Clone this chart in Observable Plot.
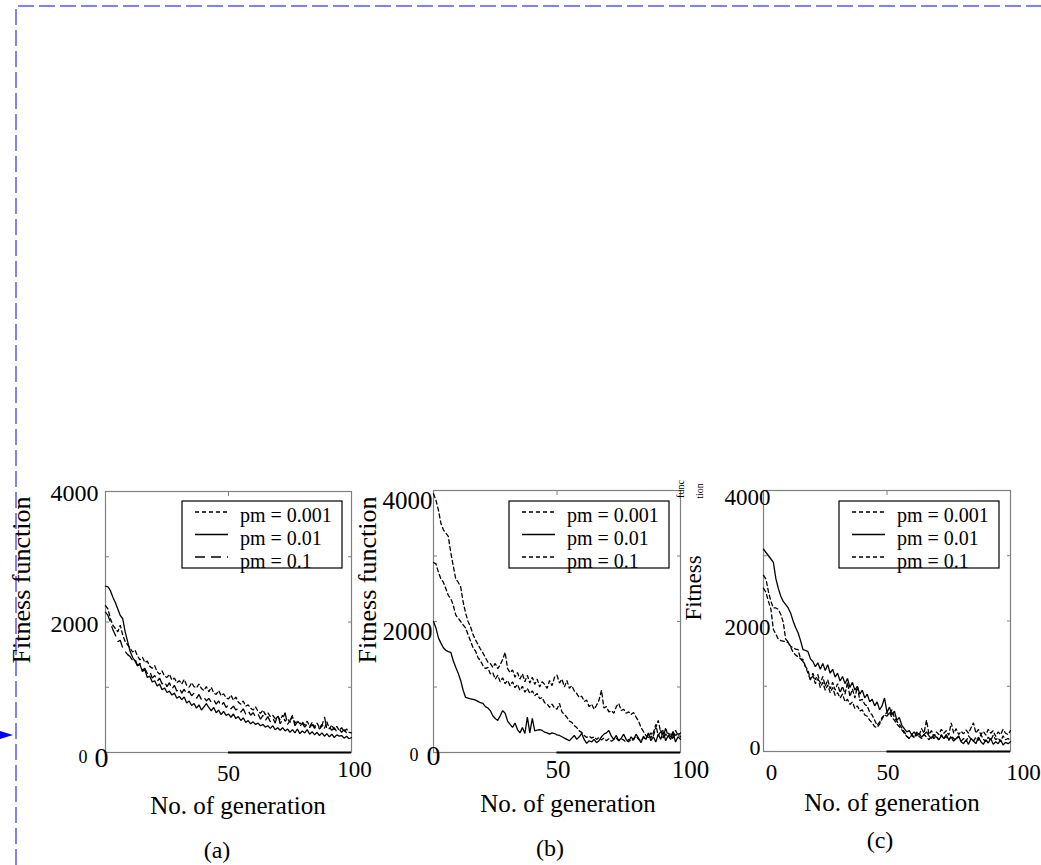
<!DOCTYPE html>
<html>
<head>
<meta charset="utf-8">
<script src="https://cdn.jsdelivr.net/npm/d3@7"></script>
<script src="https://cdn.jsdelivr.net/npm/@observablehq/plot@0.6"></script>
<style>
html,body{margin:0;padding:0;background:#fff;}
#page{position:relative;width:1041px;height:865px;overflow:hidden;font-family:"Liberation Serif","Times New Roman",serif;color:#000;}
.layer{position:absolute;left:0;top:0;}
.t{position:absolute;white-space:nowrap;transform:translate(-50%,-50%);line-height:1;}
.rot{transform:translate(-50%,-50%) rotate(-90deg);}
</style>
</head>
<body>
<div id="page"></div>
<script>
// ---- data ----
const seriesNames = ["pm = 0.001", "pm = 0.01", "pm = 0.1"];
const panelCaptions = ["(a)", "(b)", "(c)"];
const xAxisTitle = "No. of generation";
const yAxisTitle = "Fitness function";
const xTicks = [0, 50, 100];
const yLabelTicks = [2000, 4000];
const yMinorTicks = [1000, 2000, 3000];

// panel (a)
const a_001 = [2250,2200,2050,1950,1900,1850,1950,1800,1700,1650,
 1600,1540,1570,1480,1420,1460,1380,1400,1320,1290,
 1330,1240,1200,1250,1170,1150,1200,1110,1140,1070,
 1100,1050,1120,1030,1000,1070,1010,990,1050,980,
 950,1010,930,1000,910,890,950,870,900,840,
 820,880,800,850,770,740,790,710,730,680,
 650,700,630,600,650,580,610,550,570,520,
 550,500,570,480,520,460,550,450,490,440,
 470,420,480,400,460,390,450,380,430,370,
 470,360,420,350,400,340,380,320,360,310,
 300];
const a_01 = [2550,2540,2480,2380,2300,2200,2100,2050,1850,1700,
 1550,1460,1400,1330,1350,1240,1270,1150,1170,1080,
 1100,1020,1050,960,990,920,940,880,910,830,
 860,810,850,760,790,720,750,680,730,650,
 700,750,690,640,690,610,650,580,630,570,
 590,540,590,520,550,490,530,460,490,440,
 470,430,450,410,430,390,410,370,410,350,
 380,340,380,330,360,310,350,300,360,290,
 330,300,350,280,320,270,310,260,300,250,
 290,240,280,230,270,250,260,220,250,210,
 230];
const a_1 = [2150,2100,2000,1880,1800,1700,1720,1600,1550,1500,
 1470,1410,1440,1330,1370,1260,1290,1210,1250,1140,
 1180,1090,1140,1050,1090,1010,1070,970,1030,940,
 990,910,970,890,940,870,910,830,890,810,
 850,790,830,770,810,740,790,710,770,690,
 730,670,710,650,680,620,670,590,640,570,
 610,550,590,510,570,490,550,470,530,450,
 590,440,510,610,430,490,570,410,470,400,
 450,390,440,380,430,370,420,360,410,550,
 360,390,340,380,320,360,310,350,300,290,
 270];

// panel (b)
const b_001 = [3950,3850,3700,3500,3400,3350,3300,3050,2850,2650,
 2600,2530,2300,2130,2000,1920,1800,1720,1650,1580,
 1520,1450,1380,1360,1300,1360,1280,1340,1420,1530,
 1280,1220,1260,1150,1220,1120,1200,1080,1180,1060,
 1150,1040,1120,1000,1080,1040,980,1100,1020,1150,
 1180,1060,1120,1000,1100,980,1020,940,900,840,
 860,780,800,700,740,660,720,800,950,680,
 700,620,640,600,700,750,640,660,600,620,
 580,610,540,480,383,320,260,230,300,250,
 380,490,300,340,260,300,240,320,260,290,
 240];
const b_01 = [2000,1900,1750,1670,1600,1560,1540,1530,1400,1300,
 1210,1100,950,840,830,820,810,800,780,760,
 750,700,680,640,560,520,490,560,640,600,
 480,430,383,450,350,300,380,290,540,300,
 520,330,340,350,337,310,300,280,300,290,
 270,260,240,220,200,180,220,260,200,240,
 290,200,140,180,160,200,150,180,240,280,
 300,337,250,200,260,180,220,280,200,160,
 240,190,280,220,150,250,200,300,180,240,
 160,280,200,320,180,260,200,300,160,240,
 200];
const b_1 = [2900,2880,2750,2650,2600,2500,2400,2350,2250,2100,
 2050,2000,1950,1900,1800,1700,1600,1550,1450,1400,
 1330,1280,1300,1200,1220,1120,1180,1080,1140,1050,
 1100,1020,1080,990,1040,950,1010,920,980,900,
 940,870,900,820,840,760,740,690,740,680,
 660,750,620,580,540,480,460,410,380,330,
 307,260,230,250,220,240,200,230,190,220,
 180,210,170,200,220,180,210,190,160,200,
 170,210,250,200,180,230,200,280,220,300,
 430,250,340,220,380,240,300,200,340,260,
 300];

// panel (c)
const c_001 = [2700,2640,2450,2300,2200,2200,2180,2100,1980,1720,
 1680,1610,1590,1570,1560,1420,1380,1300,1250,1100,
 1200,1100,1180,1040,1150,1000,1100,960,1060,940,
 1040,900,1000,880,1060,840,960,820,1000,780,
 800,720,700,600,560,480,400,450,520,560,
 600,560,640,520,460,420,360,300,240,200,
 260,220,300,250,350,280,480,260,320,230,
 300,260,340,280,320,250,440,280,350,260,
 310,270,330,280,360,440,280,340,260,310,
 250,340,280,320,230,300,260,340,280,260,
 320];
const c_01 = [3100,3050,3000,2950,2900,2650,2500,2380,2300,2250,
 2200,2120,2000,1900,1820,1700,1560,1550,1530,1420,
 1380,1300,1360,1260,1350,1240,1330,1200,1260,1140,
 1200,1080,1150,1040,1120,980,1060,940,1000,880,
 940,820,880,760,800,700,760,640,700,820,
 600,680,560,620,480,520,400,350,300,320,
 260,300,240,280,220,260,300,240,200,260,
 220,180,240,200,260,180,220,160,200,240,
 150,120,180,110,200,160,120,220,150,110,
 180,130,200,110,150,120,180,100,140,120,
 150];
const c_1 = [2500,2440,2300,2180,1870,1800,1720,1700,1690,1680,
 1670,1600,1520,1480,1450,1420,1410,1300,1200,1100,
 1160,1040,1120,980,1060,940,1020,900,980,860,
 900,820,880,760,800,720,760,660,700,620,
 640,560,540,480,440,380,368,420,500,560,
 540,600,520,480,420,380,330,280,230,200,
 250,210,280,230,200,260,220,180,240,200,
 230,180,260,200,230,170,240,200,180,230,
 160,200,150,240,190,160,220,170,260,190,
 150,220,170,250,180,210,150,240,180,200,
 170];

// ---- layout ----
const W = 1041, H = 865;
const FONT = "'Liberation Serif','Times New Roman',serif";
const page = document.getElementById("page");
const fmt = d3.format("d");

const panels = [
  {caption: panelCaptions[0], left:105, right:351, top:491, bottom:752,
   series:[a_001, a_01, a_1], dashes:["4,3", null, "10,6"],
   yLab:{font:24, pad:7, dx:0, dy:2}, y0:{font:18, pad:18, dy:5},
   x0:{font:28, pad:0, dx:-4, dy:-5}, x50:{font:23, pad:12, dx:0}, x100:{font:23, pad:8, dx:3},
   legend:{x:182, y:501},
   xTitle:[238, 805], capPos:[217, 850]},
  {caption: panelCaptions[1], left:433, right:680, top:490, bottom:752,
   series:[b_001, b_01, b_1], dashes:["4,3", null, "4,3"],
   yLab:{font:25, pad:1, dx:0, dy:10}, y0:{font:18, pad:15, dy:3},
   x0:{font:28, pad:0, dx:0, dy:-7}, x50:{font:25, pad:8, dx:1}, x100:{font:25, pad:8, dx:10},
   legend:{x:509, y:501},
   xTitle:[568, 803], capPos:[550, 848]},
  {caption: panelCaptions[2], left:763, right:1010, top:490, bottom:751,
   series:[c_001, c_01, c_1], dashes:["4,3", null, "4,3"],
   yLab:{font:23, pad:0, dx:7, dy:7}, y0:{font:22, pad:3, dy:-4},
   x0:{font:23, pad:12, dx:8, dy:0}, x50:{font:23, pad:12, dx:1}, x100:{font:23, pad:12, dx:13},
   legend:{x:839, y:501},
   xTitle:[892, 802], capPos:[880, 840]}
];

function table(values) { return values.map((v, i) => ({gen: i, fitness: v})); }

function panelPlot(p) {
  const lines = p.series.map((vals, k) =>
    Plot.line(table(vals), {x: "gen", y: "fitness", stroke: "#000", strokeWidth: 1.3,
      strokeDasharray: p.dashes[k] || undefined, strokeLinejoin: "miter"}));
  const hide = () => "";
  return Plot.plot({
    width: W, height: H,
    marginLeft: p.left, marginRight: W - p.right, marginTop: p.top, marginBottom: H - p.bottom,
    x: {domain: [0, 100], label: null},
    y: {domain: [0, 4000], label: null},
    style: {fontFamily: FONT, background: "transparent", color: "#000", overflow: "visible"},
    marks: [
      Plot.frame({stroke: "#808080", strokeWidth: 1.2}),
      Plot.ruleY([0], {x1: xTicks[1], x2: xTicks[2], stroke: "#000", strokeWidth: 2}),
      Plot.axisY(yMinorTicks, {anchor: "left", tickSize: -4, stroke: "#808080", tickFormat: hide, label: null}),
      Plot.axisY(yMinorTicks, {anchor: "right", tickSize: -4, stroke: "#808080", tickFormat: hide, label: null}),
      Plot.axisX([xTicks[1]], {anchor: "top", tickSize: -4, stroke: "#808080", tickFormat: hide, label: null}),
      Plot.axisY(yLabelTicks, {anchor: "left", tickSize: 0, tickPadding: p.yLab.pad, dx: p.yLab.dx, dy: p.yLab.dy,
        fontSize: p.yLab.font, label: null, fontVariant: "normal", tickFormat: fmt}),
      Plot.axisY([0], {anchor: "left", tickSize: 0, tickPadding: p.y0.pad, dy: p.y0.dy,
        fontSize: p.y0.font, label: null, fontVariant: "normal", tickFormat: fmt}),
      Plot.axisX([xTicks[0]], {anchor: "bottom", tickSize: 0, tickPadding: p.x0.pad, dx: p.x0.dx, dy: p.x0.dy,
        fontSize: p.x0.font, label: null, fontVariant: "normal", tickFormat: fmt}),
      Plot.axisX([xTicks[1]], {anchor: "bottom", tickSize: 0, tickPadding: p.x50.pad, dx: p.x50.dx,
        fontSize: p.x50.font, label: null, fontVariant: "normal", tickFormat: fmt}),
      Plot.axisX([xTicks[2]], {anchor: "bottom", tickSize: 0, tickPadding: p.x100.pad, dx: p.x100.dx,
        fontSize: p.x100.font, label: null, fontVariant: "normal", tickFormat: fmt}),
      ...lines
    ]
  });
}

function addText(str, x, y, size, rot, extra) {
  const d = document.createElement("div");
  d.className = "t" + (rot ? " rot" : "");
  d.textContent = str;
  d.style.left = x + "px";
  d.style.top = y + "px";
  d.style.fontSize = size + "px";
  if (extra) Object.assign(d.style, extra);
  page.appendChild(d);
}

// page frame (dashed blue) and marker arrow
const deco = d3.create("svg").attr("width", W).attr("height", H).attr("class", "layer");
deco.append("path").attr("d", `M16,${H} L16,6 L${W},6`).attr("fill", "none")
  .attr("stroke", "#8080ff").attr("stroke-width", 2).attr("stroke-dasharray", "16,5");
deco.append("path").attr("d", "M0,731 L13,735 L0,739 Z").attr("fill", "#0000ff");
page.appendChild(deco.node());

panels.forEach(p => {
  const fig = panelPlot(p);
  fig.classList.add("layer");
  fig.style.position = "absolute";
  fig.style.left = "0px"; fig.style.top = "0px";
  page.appendChild(fig);

  // legend
  const lg = d3.create("svg").attr("width", W).attr("height", H).attr("class", "layer")
    .style("position", "absolute").style("left", "0px").style("top", "0px");
  const g = lg.append("g").attr("transform", `translate(${p.legend.x},${p.legend.y})`);
  g.append("rect").attr("x", 0).attr("y", 0).attr("width", 160).attr("height", 67)
    .attr("fill", "#fff").attr("stroke", "#000").attr("stroke-width", 1.2);
  seriesNames.forEach((name, k) => {
    const yy = 11 + k * 22.5;
    g.append("line").attr("x1", 13).attr("x2", 46).attr("y1", yy).attr("y2", yy)
      .attr("stroke", "#000").attr("stroke-width", 1.3)
      .attr("stroke-dasharray", p.dashes[k] || null);
    g.append("text").attr("x", 58).attr("y", 21 + k * 23).attr("font-size", 20)
      .attr("font-family", FONT).text(name);
  });
  page.appendChild(lg.node());

  addText(xAxisTitle, p.xTitle[0], p.xTitle[1], 25, false);
  addText(p.caption, p.capPos[0], p.capPos[1], 24, false);
});

// y titles (as in the reference layout)
addText(yAxisTitle, 22, 580, 26, true);
addText(yAxisTitle, 368, 580, 26, true);
addText("Fitness", 693, 588, 23, true);
addText("func", 681, 489, 10, true);
addText("tion", 700, 491, 10, true);
</script>
</body>
</html>
